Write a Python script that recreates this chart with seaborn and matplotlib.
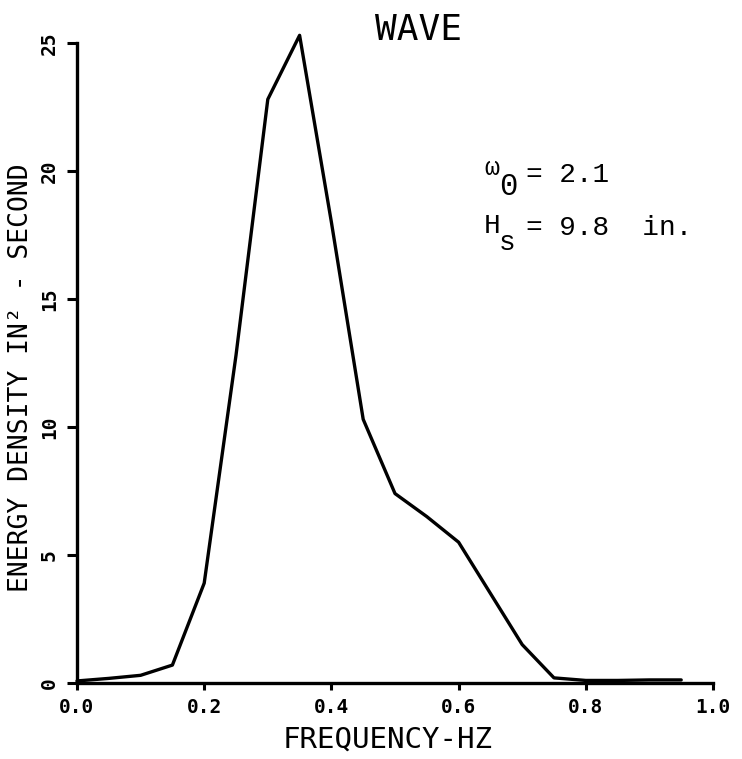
import pandas as pd
import matplotlib.pyplot as plt
import seaborn as sns

# wave energy spectrum
freq_hz = [0.0, 0.05, 0.10, 0.15, 0.20, 0.25, 0.30, 0.35, 0.40, 0.45,
           0.50, 0.55, 0.60, 0.65, 0.70, 0.75, 0.80, 0.85, 0.90, 0.95]
energy = [0.08, 0.18, 0.30, 0.70, 3.9, 12.8, 22.8, 25.3, 18.0, 10.3,
          7.4, 6.5, 5.5, 3.5, 1.5, 0.2, 0.1, 0.1, 0.12, 0.12]
x_ticks = [0.0, 0.2, 0.4, 0.6, 0.8, 1.0]
x_labels = ["0.0", "0.2", "0.4", "0.6", "0.8", "1.0"]
y_ticks = [0, 5, 10, 15, 20, 25]
y_labels = ["0", "5", "10", "15", "20", "25"]

plot_font = "DejaVu Sans Mono"
type_font = "Liberation Mono"


def plot_spectrum(df):
    """Draw the energy density spectrum in the old plotter style."""
    fig = plt.figure(figsize=(7.42, 7.59), dpi=100)
    ax = fig.add_axes([77 / 742, 1 - 683 / 759, 636 / 742, 640 / 759])

    sns.lineplot(data=df, x="freq", y="energy", ax=ax, color="black",
                 linewidth=2.4, clip_on=False)

    ax.set_xlim(0, 1.0)
    ax.set_ylim(0, 25)
    ax.set_xticks(x_ticks)
    ax.set_xticklabels(x_labels, fontfamily=plot_font, fontsize=14,
                       fontweight="bold")
    ax.set_yticks(y_ticks)
    ax.set_yticklabels(y_labels, fontfamily=plot_font, fontsize=14,
                       fontweight="bold", rotation=90, va="center")
    ax.tick_params(axis="both", direction="out", width=2.2, color="black",
                   labelcolor="black")
    ax.tick_params(axis="x", length=5, pad=6)
    ax.tick_params(axis="y", length=7, pad=6)

    for side in ["top", "right"]:
        ax.spines[side].set_visible(False)
    for side in ["left", "bottom"]:
        ax.spines[side].set_linewidth(2.4)
        ax.spines[side].set_color("black")

    ax.set_xlabel("FREQUENCY-HZ", fontfamily=plot_font, fontsize=21,
                  va="center", color="black")
    ax.xaxis.set_label_coords(0.489, -0.089)
    ax.set_ylabel("ENERGY DENSITY IN² - SECOND", fontfamily=plot_font,
                  fontsize=19, va="center", color="black")
    ax.yaxis.set_label_coords(-0.088, 0.477)

    # title and parameters
    fig.text(418 / 742, 1 - 40 / 759, "WAVE", fontfamily=plot_font,
             fontsize=26, ha="center", va="baseline", color="black")
    notes = [
        (484, 175, "ω", 18),
        (499, 195, "0", 22),
        (526, 182, "= 2.1", 20),
        (484, 233, "H", 20),
        (499, 250, "s", 20),
        (526, 235, "= 9.8  in.", 20),
    ]
    for px, py, txt, size in notes:
        fig.text(px / 742, 1 - py / 759, txt, fontfamily=type_font,
                 fontsize=size, va="baseline", color="black")

    fig.savefig("out.png", dpi=100, facecolor="white")


if __name__ == "__main__":
    sns.set_style("ticks")
    plt.rcParams["font.family"] = ["DejaVu Sans Mono", "DejaVu Sans"]
    df = pd.DataFrame({"freq": freq_hz, "energy": energy})
    plot_spectrum(df)
